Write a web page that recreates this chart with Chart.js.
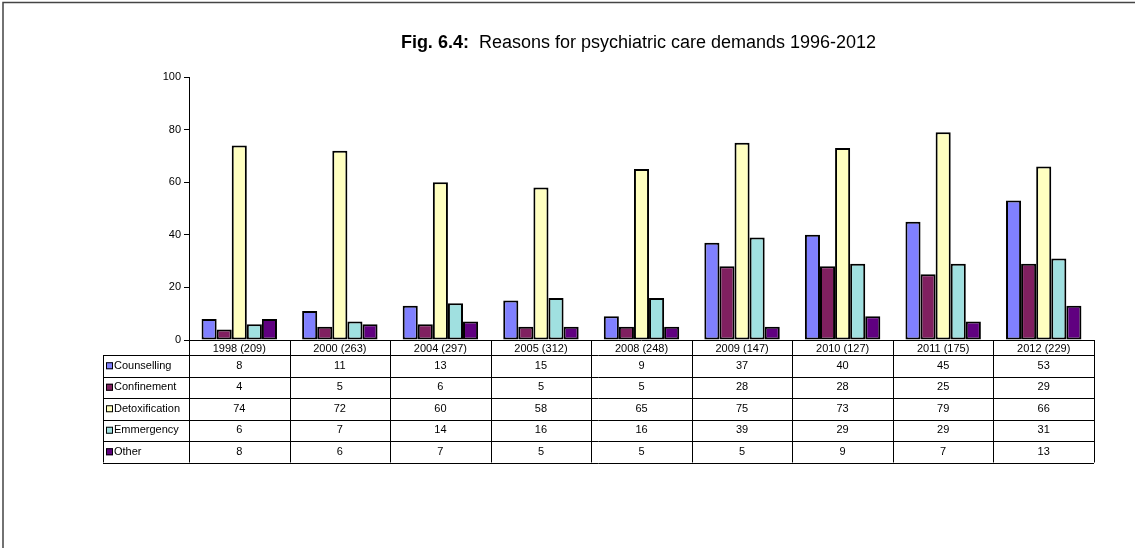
<!DOCTYPE html>
<html>
<head>
<meta charset="utf-8">
<title>Fig. 6.4</title>
<script src="https://cdn.jsdelivr.net/npm/chart.js@4/dist/chart.umd.min.js"></script>
<style>
	html, body { margin: 0; padding: 0; background: #fff; }
	#wrap { position: relative; width: 1135px; height: 548px; }
</style>
</head>
<body>
<div id="wrap"><canvas id="chart" width="1135" height="548"></canvas></div>
<script>
const YEARS = ["1998 (209)", "2000 (263)", "2004 (297)", "2005 (312)", "2008 (248)", "2009 (147)", "2010 (127)", "2011 (175)", "2012 (229)"];

const COUNSELLING = [8, 11, 13, 15, 9, 37, 40, 45, 53];
const CONFINEMENT = [4, 5, 6, 5, 5, 28, 28, 25, 29];
const DETOXIFICATION = [74, 72, 60, 58, 65, 75, 73, 79, 66];
const EMMERGENCY = [6, 7, 14, 16, 16, 39, 29, 29, 31];
const OTHER = [8, 6, 7, 5, 5, 5, 9, 7, 13];

const SERIES_NAMES = ["Counselling", "Confinement", "Detoxification", "Emmergency", "Other"];
const SERIES_COLORS = ["#8080ff", "#802060", "#ffffc0", "#a0e0e0", "#600080"];

const Y_TICKS = [0, 20, 40, 60, 80, 100];

const FONT = "Arial, 'Liberation Sans', sans-serif";

//Titolo con la parte "Fig. 6.4:" in grassetto.
const titlePlugin = {
	id: "title_mixed",
	afterDraw(chart){
		const ctx = chart.ctx;
		const area = chart.chartArea;
		const bold = "Fig. 6.4:";
		const rest = "  Reasons for psychiatric care demands 1996-2012";

		ctx.save();
		ctx.fillStyle = "#000";
		ctx.textBaseline = "alphabetic";
		ctx.font = "bold 18px " + FONT;
		const wb = ctx.measureText(bold).width;
		ctx.font = "18px " + FONT;
		const wr = ctx.measureText(rest).width;

		let x = (area.left + area.right) / 2 - 3 - (wb + wr) / 2;
		ctx.font = "bold 18px " + FONT;
		ctx.fillText(bold, x, 48);
		ctx.font = "18px " + FONT;
		ctx.fillText(rest, x + wb, 48);

		//Cornice (solo lato sinistro e superiore visibili).
		ctx.strokeStyle = "#444";
		ctx.lineWidth = 1.5;
		ctx.beginPath();
		ctx.moveTo(3, chart.height);
		ctx.lineTo(3, 2.5);
		ctx.lineTo(chart.width, 2.5);
		ctx.stroke();
		ctx.restore();
	}
};

//Tabella dati sotto al grafico, allineata alle categorie.
const tablePlugin = {
	id: "data_table",
	afterDraw(chart){
		const ctx = chart.ctx;
		const area = chart.chartArea;
		const n = YEARS.length;
		const w = (area.right - area.left) / n;
		const top = area.bottom;
		const headH = 15;
		const rowH = 21.5;
		const tableLeft = 103;
		const bottom = top + headH + rowH * SERIES_NAMES.length;
		const values = [COUNSELLING, CONFINEMENT, DETOXIFICATION, EMMERGENCY, OTHER];

		ctx.save();
		ctx.strokeStyle = "#000";
		ctx.lineWidth = 1;
		ctx.beginPath();

		//Verticali.
		for(let i=0; i<=n; i++){
			const x = Math.round(area.left + i * w) + 0.5;
			ctx.moveTo(x, top);
			ctx.lineTo(x, bottom);
		}
		ctx.moveTo(tableLeft + 0.5, top + headH);
		ctx.lineTo(tableLeft + 0.5, bottom);

		//Orizzontali.
		ctx.moveTo(area.left, Math.round(top) + 0.5);
		ctx.lineTo(area.right, Math.round(top) + 0.5);
		for(let r=0; r<=SERIES_NAMES.length; r++){
			const y = Math.round(top + headH + r * rowH) + 0.5;
			ctx.moveTo(tableLeft, y);
			ctx.lineTo(area.right, y);
		}
		ctx.stroke();

		ctx.fillStyle = "#000";
		ctx.textBaseline = "middle";
		ctx.textAlign = "center";
		ctx.font = "11px " + FONT;
		for(let i=0; i<n; i++)
			ctx.fillText(YEARS[i], area.left + (i + 0.5) * w, top + headH / 2 + 1);

		for(let r=0; r<SERIES_NAMES.length; r++){
			const cy = top + headH + (r + 0.5) * rowH;

			for(let i=0; i<n; i++)
				ctx.fillText(String(values[r][i]), area.left + (i + 0.5) * w, cy);

			//Chiave della legenda.
			ctx.fillStyle = SERIES_COLORS[r];
			ctx.fillRect(tableLeft + 3, cy - 3.5, 7, 7);
			ctx.strokeRect(tableLeft + 3.5, cy - 3, 6, 6);
			ctx.fillStyle = "#000";
			ctx.textAlign = "left";
			ctx.fillText(SERIES_NAMES[r], tableLeft + 11, cy);
			ctx.textAlign = "center";
		}
		ctx.restore();
	}
};

const datasets = [COUNSELLING, CONFINEMENT, DETOXIFICATION, EMMERGENCY, OTHER].map((d, i) => ({
	label: SERIES_NAMES[i],
	data: d,
	backgroundColor: SERIES_COLORS[i],
	borderColor: "#000",
	borderWidth: 2,
	borderSkipped: false,
	categoryPercentage: 0.75,
	barPercentage: 1.0
}));

new Chart(document.getElementById("chart"), {
	type: "bar",
	data: { labels: YEARS, datasets: datasets },
	options: {
		responsive: false,
		animation: false,
		layout: { padding: { left: 0, top: 77, right: 41, bottom: 208 } },
		plugins: {
			legend: { display: false },
			title: { display: false },
			tooltip: { enabled: false }
		},
		scales: {
			x: { display: false },
			y: {
				min: 0,
				max: 100,
				afterFit: s => { s.width = 189; },
				afterBuildTicks: s => { s.ticks = Y_TICKS.map(v => ({ value: v })); },
				border: { display: true, color: "#000", width: 1 },
				grid: { drawOnChartArea: false, drawTicks: true, tickLength: 5, color: "#000" },
				ticks: { color: "#000", padding: 3, font: { family: FONT, size: 11 } }
			}
		}
	},
	plugins: [titlePlugin, tablePlugin]
});
</script>
</body>
</html>
